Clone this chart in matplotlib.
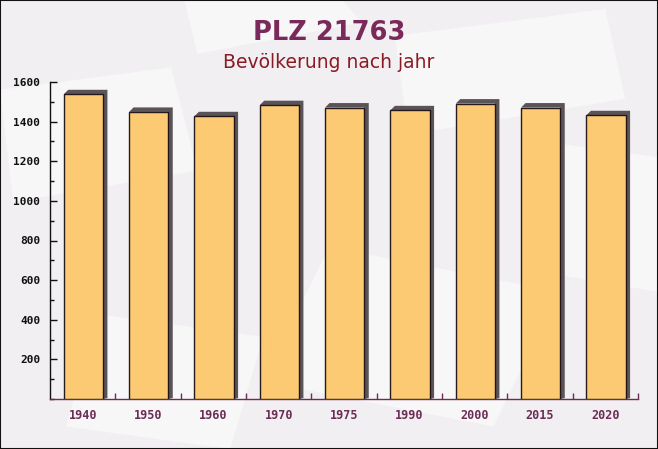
import matplotlib
matplotlib.use("Agg")
import matplotlib.pyplot as plt
from matplotlib.patches import Polygon, Rectangle
from matplotlib.ticker import MultipleLocator, FixedLocator

years = ["1940", "1950", "1960", "1970", "1975", "1990", "2000", "2015", "2020"]
population = [1538, 1449, 1427, 1483, 1471, 1457, 1491, 1471, 1432]
yticks = [200, 400, 600, 800, 1000, 1200, 1400, 1600]

title = "PLZ 21763"
subtitle = "Bevölkerung nach jahr"

W, H, DPI = 658, 449, 100
fig = plt.figure(figsize=(W / DPI, H / DPI), dpi=DPI, facecolor="#f1eff1")

# faint decorative background shapes (envelopes)
deco = [
    [(0.02, 0.55), (0.30, 0.62), (0.26, 0.85), (0.00, 0.80)],
    [(0.40, 0.15), (0.75, 0.05), (0.85, 0.35), (0.50, 0.45)],
    [(0.62, 0.70), (0.95, 0.78), (0.92, 0.98), (0.60, 0.92)],
    [(0.10, 0.05), (0.35, 0.00), (0.40, 0.25), (0.15, 0.30)],
    [(0.80, 0.40), (1.00, 0.35), (1.00, 0.65), (0.85, 0.68)],
    [(0.30, 0.88), (0.55, 0.95), (0.52, 1.00), (0.28, 1.00)],
]
bg_ax = fig.add_axes([0, 0, 1, 1], zorder=-5)
bg_ax.set_axis_off()
bg_ax.set_xlim(0, 1)
bg_ax.set_ylim(0, 1)
for pts in deco:
    bg_ax.add_patch(Polygon(pts, closed=True, facecolor="white", alpha=0.5,
                            edgecolor="none"))

left, right = 50 / W, 638 / W
bottom, top = 1 - 399 / H, 1 - 82 / H
ax = fig.add_axes([left, bottom, right - left, top - bottom], zorder=1)
ax.set_facecolor("none")

x = list(range(len(years)))
ax.set_xlim(-0.5, len(years) - 0.5)
ax.set_ylim(0, 1600)

bar_w = 0.6
# 3D depth offset (pixels converted to data units)
ax_w_px = (right - left) * W
ax_h_px = (top - bottom) * H
dx = 4.5 * (len(years)) / ax_w_px
dy = 4.5 * 1600 / ax_h_px

for xi, v in zip(x, population):
    x0, x1 = xi - bar_w / 2 + 0.01, xi + bar_w / 2 + 0.01
    poly = [(x0, v), (x0 + dx, v + dy), (x1 + dx, v + dy), (x1 + dx, dy * 0.2),
            (x1, 0), (x1, v)]
    ax.add_patch(Polygon(poly, closed=True, facecolor="#5a5459", edgecolor="none",
                         zorder=2, clip_on=False))

ax.bar([xi + 0.01 for xi in x], population, width=bar_w, color="#fcc86b", alpha=0.95,
       edgecolor="#1a0f14", linewidth=1.0, zorder=3)

# spines
for s in ["top", "right"]:
    ax.spines[s].set_visible(False)
ax.spines["left"].set_color("#111111")
ax.spines["bottom"].set_color("#6b2d55")
ax.spines["left"].set_linewidth(1.0)
ax.spines["bottom"].set_linewidth(1.0)

# y ticks
ax.yaxis.set_major_locator(FixedLocator(yticks))
ax.yaxis.set_minor_locator(MultipleLocator(100))
ax.tick_params(axis="y", which="major", direction="in", length=5, width=1,
               color="#111111", pad=7, labelsize=8, labelcolor="#111111")
ax.tick_params(axis="y", which="minor", direction="in", length=3, width=1,
               color="#111111")
for lab in ax.get_yticklabels():
    lab.set_fontfamily("DejaVu Sans Mono")
    lab.set_fontweight("bold")

# x ticks
ax.set_xticks(x)
ax.set_xticklabels(years)
ax.xaxis.set_minor_locator(FixedLocator([i + 0.5 for i in x]))
ax.tick_params(axis="x", which="major", length=0, pad=7, labelsize=8.5,
               labelcolor="#6b2d55")
ax.tick_params(axis="x", which="minor", direction="in", length=4, width=1,
               color="#6b2d55")
for lab in ax.get_xticklabels():
    lab.set_fontfamily("DejaVu Sans Mono")
    lab.set_fontweight("bold")

fig.text(0.5, 1 - 39.5 / H, title, ha="center", va="baseline",
         fontsize=18.5, fontweight="bold", color="#7a2a5a", family="DejaVu Sans")
fig.text(0.5, 1 - 68 / H, subtitle, ha="center", va="baseline",
         fontsize=13.5, color="#8b1a24", family="DejaVu Sans")

# outer frame
fig.patches.append(Rectangle((0, 0), 1, 1, transform=fig.transFigure, fill=False,
                             edgecolor="#111111", linewidth=1.5, zorder=10))

fig.savefig("out.png", dpi=DPI, facecolor=fig.get_facecolor())
